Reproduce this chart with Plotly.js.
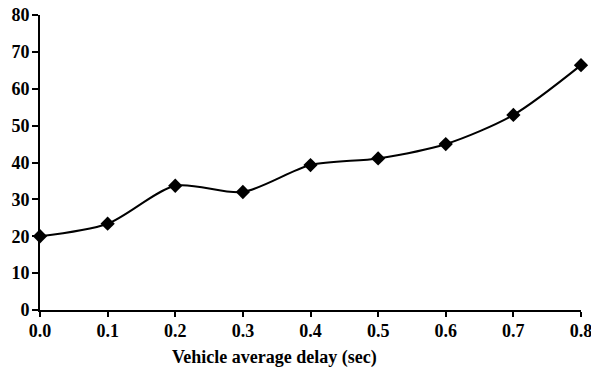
<!DOCTYPE html>
<html>
<head>
<meta charset="utf-8">
<script src="https://cdn.plot.ly/plotly-3.0.1.min.js"></script>
<style>html,body{margin:0;padding:0;background:#fff;}#chart{width:591px;height:377px;}</style>
</head>
<body>
<div id="chart"></div>
<script>
const delay = [0.0, 0.1, 0.2, 0.3, 0.4, 0.5, 0.6, 0.7, 0.8];
const values = [20, 23.4, 33.7, 32, 39.3, 41.1, 45, 52.9, 66.4];
const xTicks = [0, 0.1, 0.2, 0.3, 0.4, 0.5, 0.6, 0.7, 0.8];
const xTickLabels = ['0.0','0.1','0.2','0.3','0.4','0.5','0.6','0.7','0.8'];
const yTicks = [0, 10, 20, 30, 40, 50, 60, 70, 80];
const xTitle = 'Vehicle average delay (sec)';

const font = {family: 'Liberation Serif, Times New Roman, serif', size: 18, color: '#000', weight: 'bold'};

Plotly.newPlot('chart', [{
  x: delay, y: values, type: 'scatter', mode: 'lines+markers',
  line: {shape: 'spline', smoothing: 0.8, color: '#000', width: 2},
  marker: {symbol: 'diamond', size: 11, color: '#000'},
  cliponaxis: false
}], {
  width: 591, height: 377,
  margin: {l: 40, r: 10, t: 15, b: 67},
  paper_bgcolor: '#fff', plot_bgcolor: '#fff',
  showlegend: false,
  font: font,
  xaxis: {range: [0, 0.8], tickvals: xTicks, ticktext: xTickLabels, automargin: false,
    ticklabeloverflow: 'allow',
    showgrid: false, zeroline: false, showline: true, linecolor: '#000', linewidth: 2,
    ticks: 'outside', ticklen: 5, tickwidth: 2, tickcolor: '#000', tickfont: font, ticklabelstandoff: -2},
  yaxis: {range: [0, 80], tickvals: yTicks, automargin: false,
    showgrid: false, zeroline: false, showline: true, linecolor: '#000', linewidth: 2,
    ticks: 'outside', ticklen: 6, tickwidth: 2, tickcolor: '#000', tickfont: font, ticklabelstandoff: -1},
  annotations: [{text: xTitle, xref: 'paper', yref: 'paper', x: (274-40)/541, y: -(357-310)/295,
    xanchor: 'center', yanchor: 'middle', showarrow: false,
    font: {family: 'Liberation Serif, Times New Roman, serif', size: 18, color: '#000', weight: 'bold'}}]
}, {displayModeBar: false, staticPlot: true});
</script>
</body>
</html>
